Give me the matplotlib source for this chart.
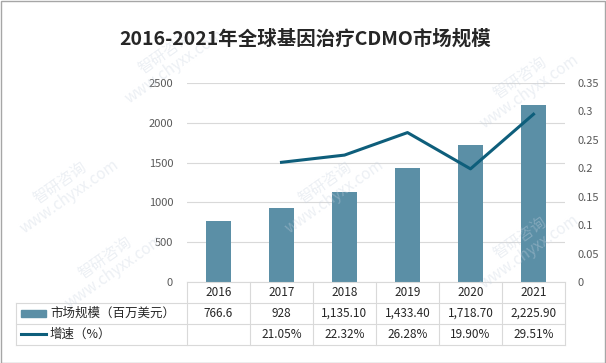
"""
2016-2021 global gene therapy CDMO market size: bars + growth line + data table
"""
import matplotlib
matplotlib.use('Agg')
import matplotlib.pyplot as plt
from matplotlib.patches import Rectangle
from matplotlib.lines import Line2D

plt.rcParams['font.family'] = ['Noto Sans CJK SC', 'DejaVu Sans']

# Data
years = ['2016', '2017', '2018', '2019', '2020', '2021']
market = [766.6, 928, 1135.10, 1433.40, 1718.70, 2225.90]
market_labels = ['766.6', '928', '1,135.10', '1,433.40', '1,718.70', '2,225.90']
growth = [None, 0.2105, 0.2232, 0.2628, 0.1990, 0.2951]
growth_labels = ['', '21.05%', '22.32%', '26.28%', '19.90%', '29.51%']
bar_name = '市场规模（百万美元）'
line_name = '增速（%）'
title = '2016-2021年全球基因治疗CDMO市场规模'

bar_color = '#5B8FA6'
line_color = '#0E5E7B'
grid_color = '#D9D9D9'
text_color = '#595959'

W, H = 606, 363
fig = plt.figure(figsize=(W / 100, H / 100), dpi=100)
fig.patch.set_facecolor('white')

# plot area in pixels
left, right, top, bottom = 187, 565, 83, 282
ax = fig.add_axes([left / W, 1 - bottom / H, (right - left) / W, (bottom - top) / H])
ax2 = ax.twinx()

x = list(range(len(years)))
ax.bar(x, market, width=0.4, color=bar_color, zorder=2)
ax.set_xlim(-0.5, len(years) - 0.5)
ax.set_ylim(0, 2500)
ax.set_yticks(range(0, 2501, 500))
ax.set_yticklabels([str(v) for v in range(0, 2501, 500)])
ax.yaxis.grid(True, color=grid_color, linewidth=0.8, zorder=0)
ax.set_axisbelow(True)
ax.set_xticks([])

gx = [i for i, g in zip(x, growth) if g is not None]
gy = [g for g in growth if g is not None]
ax2.plot(gx, gy, color=line_color, linewidth=2.2, zorder=3)
ax2.set_ylim(0, 0.35)
rticks = [0, 0.05, 0.1, 0.15, 0.2, 0.25, 0.3, 0.35]
ax2.set_yticks(rticks)
ax2.set_yticklabels(['0', '0.05', '0.1', '0.15', '0.2', '0.25', '0.3', '0.35'])

for a in (ax, ax2):
    for s in a.spines.values():
        s.set_visible(False)
    a.tick_params(length=0, labelsize=8, labelcolor=text_color)
ax.tick_params(axis='y', pad=10)
ax2.tick_params(axis='y', pad=9)

# data table below the plot area
trans = ax.get_xaxis_transform()
ph = bottom - top
row_px = [0, 21, 42, 63]
rows = [-r / ph for r in row_px]
x_tab_left = -0.5 - (left - 16) / ((right - left) / len(years))

lines_kw = dict(color=grid_color, linewidth=0.8, transform=trans, clip_on=False)
ax.add_line(Line2D([-0.5, len(years) - 0.5], [rows[0], rows[0]], **lines_kw))
for r in rows[1:]:
    ax.add_line(Line2D([x_tab_left, len(years) - 0.5], [r, r], **lines_kw))
for c in range(len(years) + 1):
    ax.add_line(Line2D([c - 0.5, c - 0.5], [rows[0], rows[3]], **lines_kw))
ax.add_line(Line2D([x_tab_left, x_tab_left], [rows[1], rows[3]], **lines_kw))

txt_kw = dict(transform=trans, ha='center', va='center', fontsize=8.5,
              color='#262626', clip_on=False)
for i, yr in enumerate(years):
    ax.text(i, (rows[0] + rows[1]) / 2, yr, **txt_kw)
    ax.text(i, (rows[1] + rows[2]) / 2, market_labels[i], **txt_kw)
    ax.text(i, (rows[2] + rows[3]) / 2, growth_labels[i], **txt_kw)

# legend keys inside the table
fig.patches.append(Rectangle((21 / W, 1 - 317 / H), 25 / W, 7 / H,
                             transform=fig.transFigure, color=bar_color))
fig.lines.append(Line2D([21 / W, 46 / W], [1 - 334 / H, 1 - 334 / H],
                        transform=fig.transFigure, color=line_color, linewidth=2.2))
fig.text(50 / W, 1 - 313 / H, bar_name, fontsize=9, color='#262626', va='center')
fig.text(50 / W, 1 - 334 / H, line_name, fontsize=9, color='#262626', va='center')

# title
fig.text(305 / W, 1 - 39 / H, title, fontsize=14, fontweight='bold',
         color='#262626', ha='center', va='center')

# faint watermarks
for wx, wy in [(170, 60), (330, 190), (525, 85), (65, 190), (525, 245), (110, 265)]:
    fig.text(wx / W, 1 - wy / H, '智研咨询\nwww.chyxx.com', fontsize=11,
             color='#C9D3E0', alpha=0.35, rotation=35, ha='center', va='center',
             linespacing=1.0, zorder=0)

# outer frame
fig.patches.append(Rectangle((0.5 / W, 0.5 / H), 1 - 1.5 / W, 1 - 1.5 / H,
                             transform=fig.transFigure, fill=False,
                             edgecolor='#A6A6A6', linewidth=1))

fig.savefig('out.png', dpi=100, facecolor='white')
